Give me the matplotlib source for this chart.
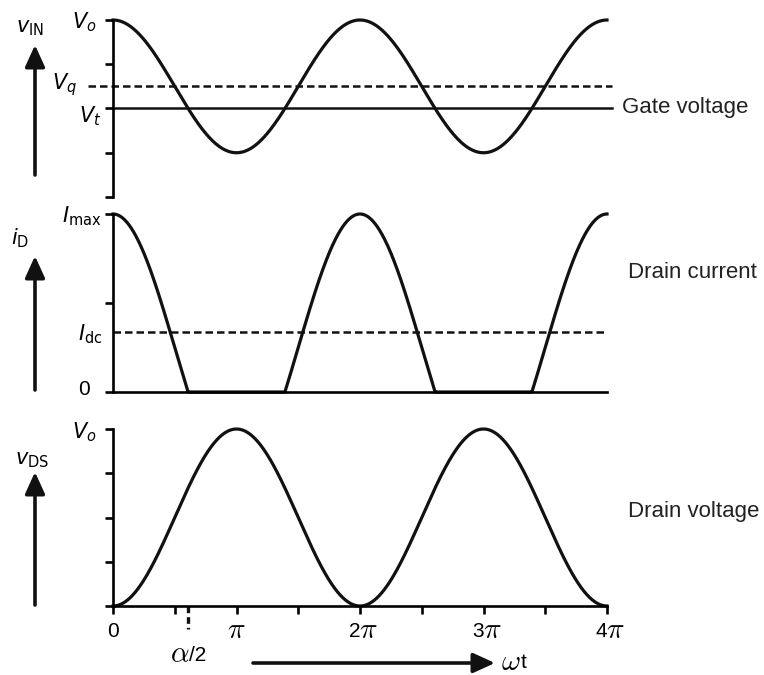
import numpy as np
import matplotlib
matplotlib.use("Agg")
import matplotlib.pyplot as plt
from matplotlib.patches import FancyArrowPatch
from matplotlib.transforms import blended_transform_factory

plt.rcParams['font.family'] = ['Liberation Sans Narrow', 'Liberation Sans', 'DejaVu Sans']
plt.rcParams['mathtext.fontset'] = 'custom'
plt.rcParams['mathtext.rm'] = 'Liberation Sans Narrow'
plt.rcParams['mathtext.it'] = 'Liberation Sans Narrow:italic'

# levels, in tick units of each panel
vin_ticks = [0, 1, 2, 3, 4]
vin_max = 4.0
vin_min = 1.0
v_q = 2.5
v_t = 2.0

id_ticks = [0, 1, 2]
i_max = 2.0
i_dc = 0.67

vds_ticks = [0, 1, 2, 3, 4]
vds_max = 4.0

x_ticks = np.arange(9) * np.pi / 2
# (multiple of pi, digit shown in front of the pi sign)
x_labels = [(1, ''), (2, '2'), (3, '3'), (4, '4')]

panel_labels = ['Gate voltage', 'Drain current', 'Drain voltage']

# waveforms
wt = np.linspace(0, 4 * np.pi, 1200)
mid = (vin_max + vin_min) / 2
amp = (vin_max - vin_min) / 2
vin = mid + amp * np.cos(wt)
c = (v_t - mid) / amp          # cos(alpha/2)
half_alpha = np.arccos(c)
i_d = np.clip(i_max * (np.cos(wt) - c) / (1 - c), 0, None)
vds = vds_max / 2 * (1 - np.cos(wt))

W, H = 764, 675
fig = plt.figure(figsize=(W / 100, H / 100), dpi=100)


def box(top, bottom, left=113, right=607):
    return [left / W, 1 - bottom / H, (right - left) / W, (bottom - top) / H]


def fpx(x, y):
    return (x / W, 1 - y / H)


LW = 2.3
SP = 1.9
ax1 = fig.add_axes(box(20, 197))
ax2 = fig.add_axes(box(214, 392))
ax3 = fig.add_axes(box(429, 606))

for ax, ticks in [(ax1, vin_ticks), (ax2, id_ticks), (ax3, vds_ticks)]:
    ax.set_xlim(0, 4 * np.pi)
    ax.set_ylim(ticks[0], ticks[-1])
    ax.set_yticks(ticks)
    ax.set_yticklabels([])
    for s in ['top', 'right']:
        ax.spines[s].set_visible(False)
    ax.spines['left'].set_linewidth(SP)
    ax.spines['bottom'].set_linewidth(SP)
    ax.tick_params(axis='y', direction='out', length=6, width=SP)
    ax.patch.set_visible(False)

# top panel
ax1.spines['bottom'].set_visible(False)
ax1.set_xticks([])
ax1.plot(wt, vin, color='#111111', lw=LW, clip_on=False)
ax1.plot([-0.2 * np.pi, 4.04 * np.pi], [v_q, v_q], color='#111111', lw=1.8,
         ls=(0, (3, 1.6)), clip_on=False)
ax1.plot([0, 4.04 * np.pi], [v_t, v_t], color='#111111', lw=1.8, clip_on=False)

# middle panel
ax2.set_xticks([])
ax2.plot(wt, i_d, color='#111111', lw=LW, clip_on=False)
ax2.plot([0, 4 * np.pi], [i_dc, i_dc], color='#111111', lw=1.8,
         ls=(0, (3, 1.6)), clip_on=False)

# bottom panel
ax3.plot(wt, vds, color='#111111', lw=LW, clip_on=False)
ax3.set_xticks(x_ticks)
ax3.set_xticklabels([])
ax3.tick_params(axis='x', direction='out', length=6, width=SP)
tr = blended_transform_factory(ax3.transData, ax3.transAxes)

# x tick labels: sans digits, large serif italic pi
ylab = -0.145
ax3.text(0, ylab, '0', transform=tr, ha='center', va='center', fontsize=15)
for k, digit in x_labels:
    xk = k * np.pi
    if digit:
        ax3.annotate(digit, (xk, ylab), xycoords=tr, xytext=(0, 0),
                     textcoords='offset points', ha='right', va='center', fontsize=15)
        ax3.annotate(r'$\pi$', (xk, ylab), xycoords=tr, xytext=(-0.5, 1),
                     textcoords='offset points', ha='left', va='center',
                     fontsize=21, math_fontfamily='cm')
    else:
        ax3.annotate(r'$\pi$', (xk, ylab), xycoords=tr, xytext=(0, 1),
                     textcoords='offset points', ha='center', va='center',
                     fontsize=21, math_fontfamily='cm')

ax3.plot([half_alpha, half_alpha], [0, -0.13], transform=tr, color='#111111',
         lw=2.4, ls=(0, (2, 1.2)), clip_on=False)
ax3.annotate(r'$\alpha$', (half_alpha, -0.28), xycoords=tr, xytext=(1, 1),
             textcoords='offset points', ha='right', va='center', fontsize=21,
             math_fontfamily='cm')
ax3.annotate('/2', (half_alpha, -0.28), xycoords=tr, xytext=(1, 0),
             textcoords='offset points', ha='left', va='center', fontsize=15)

# level labels on the left
fs = 15
fig.text(*fpx(97, 22), r'$V_o$', ha='right', va='center', fontsize=fs)
fig.text(*fpx(77, 85), r'$V_q$', ha='right', va='center', fontsize=fs)
fig.text(*fpx(101, 116), r'$V_t$', ha='right', va='center', fontsize=fs)
fig.text(*fpx(102, 216), r'$I_{\rm max}$', ha='right', va='center', fontsize=fs)
fig.text(*fpx(102, 334), r'$I_{\rm dc}$', ha='right', va='center', fontsize=fs)
fig.text(*fpx(90, 390), '0', ha='right', va='center', fontsize=fs)
fig.text(*fpx(97, 432), r'$V_o$', ha='right', va='center', fontsize=fs)

# quantity labels and arrows
fig.text(*fpx(30, 28), r'$v_{\rm IN}$', ha='center', va='center', fontsize=fs)
fig.text(*fpx(20, 238), r'$i_{\rm D}$', ha='center', va='center', fontsize=fs)
fig.text(*fpx(32, 460), r'$v_{\rm DS}$', ha='center', va='center', fontsize=fs)

for tail, tip in [((35, 175), (35, 45)), ((35, 390), (35, 256)),
                  ((35, 605), (35, 472)), ((253, 663), (495, 663))]:
    fig.add_artist(FancyArrowPatch(fpx(*tail), fpx(*tip), transform=fig.transFigure,
                                   arrowstyle='-|>,head_length=1.1,head_width=0.5',
                                   mutation_scale=12, lw=2.6, color='#111111',
                                   shrinkA=0, shrinkB=0))
fig.text(*fpx(501, 662), r'$\omega$', ha='left', va='center', fontsize=21,
         math_fontfamily='cm')
fig.text(*fpx(521, 662), 't', ha='left', va='center', fontsize=15)

# panel names on the right
for (x, y), name in zip([(622, 108), (628, 273), (628, 512)], panel_labels):
    fig.text(*fpx(x, y), name, ha='left', va='center', fontsize=16, color='#222222')

fig.savefig('out.png', dpi=100)
